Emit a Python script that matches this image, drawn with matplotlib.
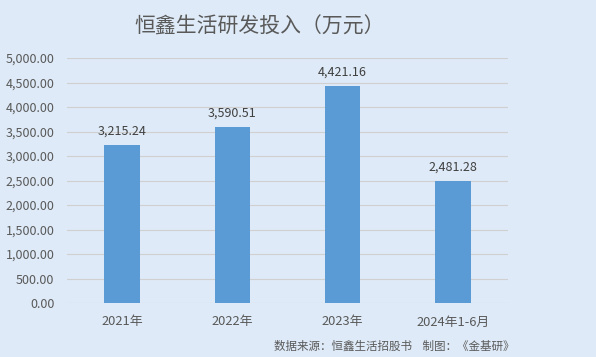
import matplotlib as mpl
import matplotlib.pyplot as plt

plt.rcParams['font.family'] = ['Noto Sans CJK SC', 'DejaVu Sans']

categories = ['2021年', '2022年', '2023年', '2024年1-6月']
values = [3215.24, 3590.51, 4421.16, 2481.28]
yticks = [0, 500, 1000, 1500, 2000, 2500, 3000, 3500, 4000, 4500, 5000]

bg = '#DEEAF7'
grey = '#595959'

fig = plt.figure(figsize=(5.96, 3.57), dpi=100, facecolor=bg)
ax = fig.add_axes([67 / 596, 1 - 303 / 357, 441 / 596, 245 / 357], facecolor=bg)

x = range(len(categories))
bars = ax.bar(x, values, width=0.32, color='#5B9BD5', zorder=3)
for xi, v in zip(x, values):
    ax.text(xi, v + 150, f'{v:,.2f}', ha='center', va='bottom', fontsize=9, color='#404040')

ax.set_xlim(-0.5, len(categories) - 0.5)
ax.set_ylim(0, 5000)
ax.set_yticks(yticks)
ax.set_yticklabels([f'{t:,.2f}' for t in yticks], fontsize=9, color=grey)
ax.set_xticks(list(x))
ax.set_xticklabels(categories, fontsize=9.3, color=grey)
ax.tick_params(length=0, pad=9)
ax.grid(axis='y', color='#D0D0D0', linewidth=0.8, zorder=0)
for s in ax.spines.values():
    s.set_visible(False)

fig.text(260 / 596, 1 - 27 / 357, '恒鑫生活研发投入（万元）', ha='center', va='center', fontsize=15, color=grey)
fig.text(514 / 596, 1 - 346 / 357, '数据来源：恒鑫生活招股书    制图：《金基研》', ha='right', va='center', fontsize=8.3, color=grey)

fig.savefig('out.png', dpi=100, facecolor=bg)
